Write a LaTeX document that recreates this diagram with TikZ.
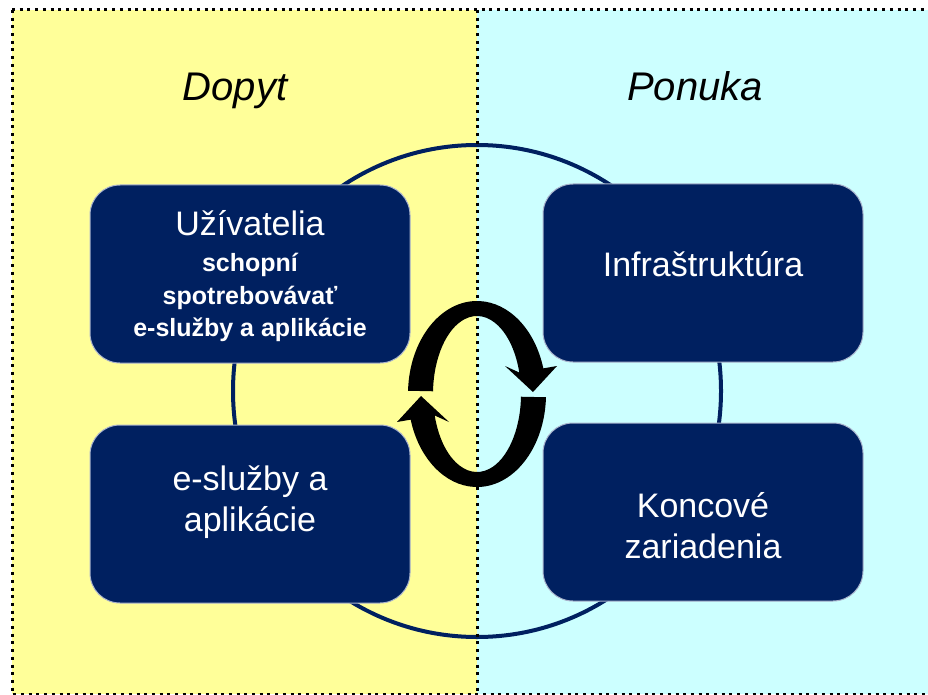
\documentclass[tikz,border=0pt]{standalone}
\usepackage{fontspec}
\setmainfont{Liberation Sans}
\usetikzlibrary{calc}
\definecolor{navy}{RGB}{0,32,96}
\definecolor{rim}{RGB}{170,180,205}
\definecolor{demandbg}{RGB}{255,255,153}
\definecolor{supplybg}{RGB}{204,255,255}
\def\boxw{320pt}
\def\boxh{178pt}

\begin{document}
\begin{tikzpicture}[x=1pt,y=-1pt,
    frame/.style={line width=3pt,dash pattern=on 3pt off 4.7pt},
    ring/.style={navy,line width=4pt},
    tile/.style={draw=rim,line width=1pt,fill=navy,rounded corners=30pt,minimum width=\boxw,minimum height=\boxh},
    tiletext/.style={text=white,align=center,font=\fontsize{34}{41}\selectfont},
    side/.style={font=\fontsize{40}{46}\selectfont\itshape,anchor=base},
    turn/.style={fill=black}
  ]

  \useasboundingbox (0,0) rectangle (928,695);

  \fill[demandbg] (12,10) rectangle (477,694);
  \fill[supplybg] (477,10) rectangle (928,694);
  \draw[frame] (12,10) -- (928,10);
  \draw[frame] (12,10) -- (12,694) -- (928,694);

  \draw[ring] (477,391) ellipse [x radius=244,y radius=246];
  \draw[frame] (477,10) -- (477,695);

  \node[side] (dopyt) at (235,101) {Dopyt};
  \node[side] (ponuka) at (695,101) {Ponuka};

  \node[tile] (users) at (250,274) {};
  \node[tile] (infra) at (703,273) {};
  \node[tile] (apps) at (250,514) {};
  \node[tile] (devices) at (703,512) {};

  \node[tiletext,font=\fontsize{25}{32.5}\selectfont\bfseries] (userstext) at (250,276)
    {{\fontsize{34}{40}\mdseries\selectfont Užívatelia}\\[4pt] schopní\\ spotrebovávať\\ e-služby a aplikácie};
  \node[tiletext] (infratext) at (703,264) {Infraštruktúra};
  \node[tiletext] (appstext) at (250,502) {e-služby a\\ aplikácie};
  \node[tiletext] (devicestext) at (703,526) {Koncové\\ zariadenia};

  % the two turning arrows in the middle
  \coordinate (hub) at (477,394);
  \fill[turn] ($(hub)+(182:69 and 93)$) arc[start angle=182,end angle=344,x radius=69,y radius=93]
    -- (557,366) -- (533,392) -- (505,366)
    -- ($(hub)+(344:44 and 78)$) arc[start angle=344,end angle=182,x radius=44,y radius=78] -- cycle;
  \fill[turn] ($(hub)+(2:69 and 93)$) arc[start angle=2,end angle=164,x radius=69,y radius=93]
    -- (397,422) -- (421,396) -- (449,422)
    -- ($(hub)+(164:44 and 78)$) arc[start angle=164,end angle=2,x radius=44,y radius=78] -- cycle;

\end{tikzpicture}
\end{document}
